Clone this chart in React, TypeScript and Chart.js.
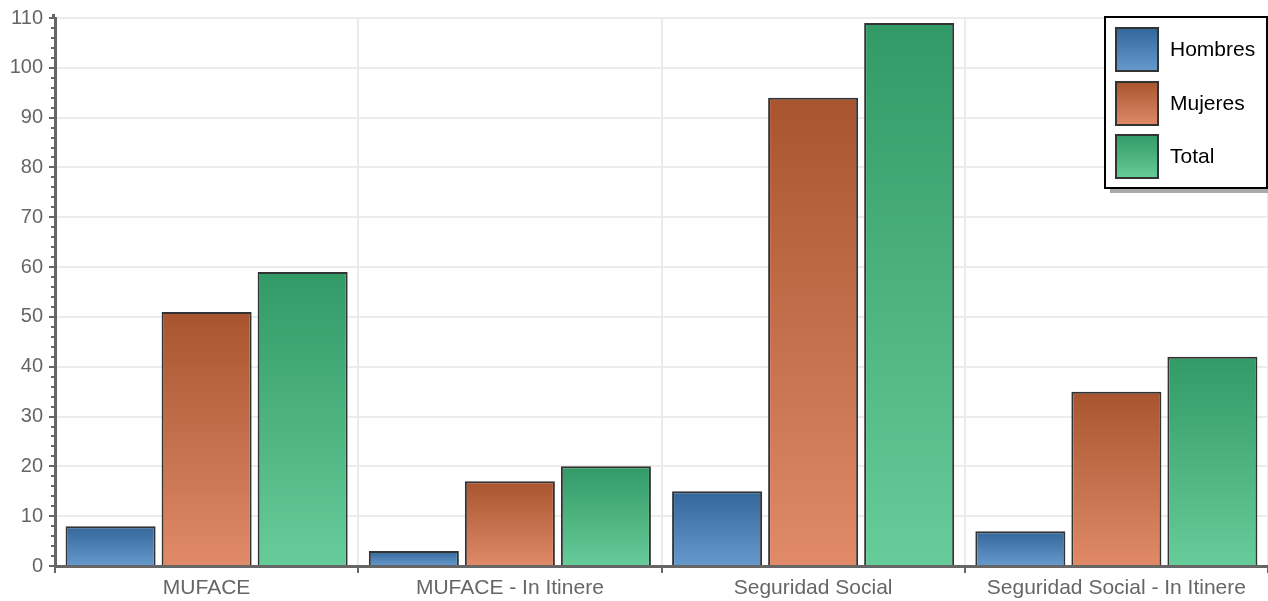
import React, { useEffect, useRef } from "react";
import { Chart, registerables } from "chart.js";

Chart.register(...registerables);

const categories = ["MUFACE", "MUFACE - In Itinere", "Seguridad Social", "Seguridad Social - In Itinere"];
const hombres = [8, 3, 15, 7];
const mujeres = [51, 17, 94, 35];
const total = [59, 20, 109, 42];
const seriesNames = ["Hombres", "Mujeres", "Total"];
const gradTop = ["#336699", "#a8552f", "#329a66"];
const gradBottom = ["#6699cc", "#e08a68", "#66cc99"];
const FONT = "'Liberation Sans', Arial, sans-serif";

function barGradient(idx: number) {
  return (ctx: any) => {
    const chart = ctx.chart;
    const area = chart.chartArea;
    if (!area || ctx.type !== "data") return gradTop[idx];
    const y = chart.scales.y;
    const top = y.getPixelForValue(ctx.raw);
    const bottom = y.getPixelForValue(0);
    if (!isFinite(top) || !isFinite(bottom) || top === bottom) return gradTop[idx];
    const g = chart.ctx.createLinearGradient(0, top, 0, bottom);
    g.addColorStop(0, gradTop[idx]);
    g.addColorStop(1, gradBottom[idx]);
    return g;
  };
}

const extrasPlugin = {
  id: "extras",
  afterDraw(chart: any) {
    const c = chart.ctx;
    const y = chart.scales.y;
    const left = chart.chartArea.left;
    c.save();
    // axis extension above top
    c.strokeStyle = "#666";
    c.lineWidth = 3;
    c.beginPath();
    c.moveTo(left - 1.5, chart.chartArea.top - 4);
    c.lineTo(left - 1.5, chart.chartArea.top + 1);
    c.stroke();
    // minor ticks
    c.lineWidth = 2;
    for (let v = 0; v <= 110; v += 2) {
      if (v % 10 === 0) continue;
      const py = Math.round(y.getPixelForValue(v));
      c.beginPath();
      c.moveTo(left - 4, py);
      c.lineTo(left, py);
      c.stroke();
    }
    // legend
    const bx = 1105, by = 17, bw = 162, bh = 171;
    c.fillStyle = "#aaa";
    c.fillRect(bx + 5, by + 5, bw, bh);
    c.fillStyle = "#fff";
    c.fillRect(bx, by, bw, bh);
    c.strokeStyle = "#000";
    c.lineWidth = 2;
    c.strokeRect(bx, by, bw, bh);
    const sy = [28, 82, 135];
    for (let i = 0; i < 3; i++) {
      const g = c.createLinearGradient(0, sy[i], 0, sy[i] + 43);
      g.addColorStop(0, gradTop[i]);
      g.addColorStop(1, gradBottom[i]);
      c.fillStyle = g;
      c.fillRect(1116, sy[i], 42, 43);
      c.strokeStyle = "#333";
      c.lineWidth = 2;
      c.strokeRect(1116, sy[i], 42, 43);
      c.fillStyle = "#000";
      c.font = "21px " + FONT;
      c.textBaseline = "middle";
      c.textAlign = "left";
      c.fillText(seriesNames[i], 1170, sy[i] + 22);
    }
    c.restore();
  },
};

export default function App() {
  const ref = useRef<HTMLCanvasElement | null>(null);
  useEffect(() => {
    document.body.style.margin = "0";
    const datasets = [hombres, mujeres, total].map((d, i) => ({
      label: seriesNames[i],
      data: d,
      backgroundColor: barGradient(i),
      borderColor: "#333",
      borderWidth: 2,
      categoryPercentage: 0.95,
      barPercentage: 0.9375,
    }));
    const chart = new Chart(ref.current as HTMLCanvasElement, {
      type: "bar",
      data: { labels: categories, datasets },
      options: {
        animation: false,
        responsive: false,
        maintainAspectRatio: false,
        layout: { padding: { top: 17, right: 0, left: 0, bottom: 0 } },
        plugins: { legend: { display: false }, tooltip: { enabled: false } },
        scales: {
          x: {
            grid: { color: "#ececec", lineWidth: 2, tickLength: 7, tickColor: "#666", tickWidth: 2, offset: true },
            border: { color: "#666", width: 3 },
            ticks: { color: "#666", font: { size: 21, family: FONT }, padding: 3, maxRotation: 0, autoSkip: false },
            afterFit: (s: any) => { s.height = 35; },
          },
          y: {
            min: 0,
            max: 110,
            grid: { color: "#ececec", lineWidth: 2, tickLength: 6, tickColor: "#666", tickWidth: 2 },
            border: { color: "#666", width: 3 },
            ticks: { stepSize: 10, color: "#666", font: { size: 20, family: FONT }, padding: 6 },
            afterFit: (s: any) => { s.width = 55; },
          },
        },
      },
      plugins: [extrasPlugin],
    });
    return () => chart.destroy();
  }, []);
  return <canvas ref={ref} width={1268} height={601} style={{ display: "block" }} />;
}
